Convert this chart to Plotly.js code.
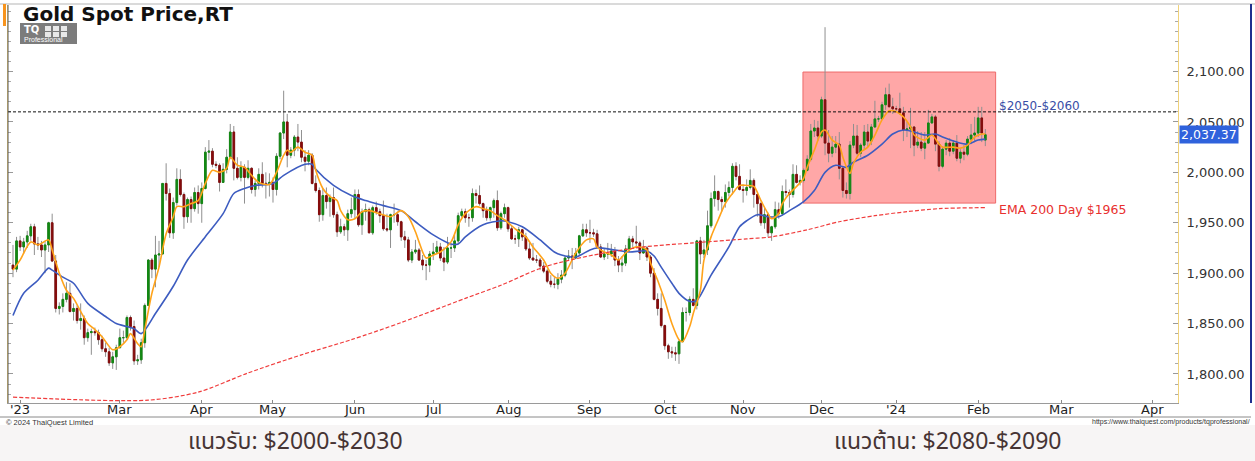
<!DOCTYPE html>
<html>
<head>
<meta charset="utf-8">
<script src="https://cdn.plot.ly/plotly-3.0.1.min.js"></script>
<style>
html,body{margin:0;padding:0;background:#ffffff;}
#chart{width:1255px;height:461px;}
</style>
</head>
<body>
<div id="chart"></div>
<script>
// ---------------- DATA (daily OHLC, Jan 18 2023 -> Feb 5 2024, trading-day index) ----------------
const open = [
1908,1904,1932,1926,1931,1937,1946,1929,1928,1923,
1928,1950,1912,1865,1867,1874,1880,1862,1865,1853,
1855,1836,1841,1842,1841,1834,1825,1822,1811,1817,
1826,1836,1836,1856,1847,1813,1814,1831,1868,1913,
1904,1918,1919,1989,1979,1940,1970,1993,1978,1956,
1973,1964,1980,1969,1984,2020,2021,2008,2007,1990,
2003,2015,2040,2004,1995,2005,1995,2004,1983,1989,
1998,1989,1989,1990,1983,2016,2039,2050,2017,2022,
2035,2030,2015,2011,2017,1989,1982,1958,1977,1971,
1975,1958,1941,1946,1943,1959,1963,1978,1948,1961,
1963,1940,1965,1961,1957,1944,1943,1958,1958,1951,
1936,1933,1913,1921,1923,1913,1908,1908,1919,1921,
1926,1915,1911,1925,1925,1932,1957,1961,1955,1955,
1979,1977,1969,1962,1955,1965,1972,1945,1959,1965,
1944,1934,1934,1943,1936,1924,1915,1913,1913,1907,
1902,1892,1889,1889,1894,1898,1915,1917,1915,1920,
1937,1943,1940,1940,1939,1926,1916,1919,1919,1922,
1913,1908,1910,1924,1934,1931,1930,1920,1925,1916,
1900,1874,1865,1848,1828,1822,1821,1820,1832,1861,
1861,1874,1868,1932,1919,1923,1947,1974,1981,1973,
1971,1980,1985,2006,1996,1983,1982,1985,1992,1978,
1969,1950,1958,1940,1946,1963,1959,1981,1980,1978,
1998,1990,1992,2002,2013,2041,2044,2036,2072,2029,
2019,2025,2028,2004,1982,1979,2027,2036,2019,2027,
2040,2031,2045,2053,2053,2067,2077,2065,2063,2063,
2059,2042,2043,2045,2027,2030,2024,2029,2049,2055,
2028,2006,2023,2029,2021,2029,2014,2020,2018,2033,
2037,2039,2054,2032
];
const high = [
1928,1936,1937,1935,1942,1949,1949,1936,1932,1932,
1951,1959,1918,1871,1880,1891,1890,1870,1868,1870,
1858,1845,1845,1846,1844,1838,1831,1826,1822,1829,
1845,1843,1858,1858,1853,1819,1835,1870,1914,1915,
1937,1932,1989,2009,1984,1975,2004,2003,1980,1975,
1976,1985,1987,1990,2025,2032,2024,2011,2009,2009,
2023,2048,2046,2015,2011,2008,2012,2005,1992,2004,
2010,2000,1999,1995,2019,2040,2081,2058,2025,2037,
2048,2042,2022,2022,2019,1997,1985,1984,1985,1978,
1985,1961,1954,1949,1963,1975,1983,1983,1964,1969,
1965,1967,1971,1964,1972,1959,1959,1969,1961,1952,
1942,1936,1924,1933,1925,1918,1913,1922,1930,1932,
1930,1926,1936,1929,1938,1960,1964,1964,1959,1984,
1983,1987,1970,1966,1966,1974,1982,1961,1969,1966,
1947,1938,1946,1944,1940,1930,1930,1918,1915,1911,
1904,1898,1896,1900,1903,1917,1923,1925,1925,1938,
1949,1949,1953,1944,1943,1929,1924,1930,1929,1926,
1917,1917,1928,1937,1937,1947,1932,1933,1927,1918,
1905,1880,1880,1849,1830,1827,1827,1834,1866,1866,
1877,1885,1933,1936,1933,1962,1980,1997,1982,1976,
1988,1991,2009,2010,2008,1988,1993,2003,1994,1979,
1971,1965,1960,1947,1971,1970,1987,1993,1983,2008,
2007,1997,2004,2017,2048,2052,2051,2075,2144,2042,
2036,2036,2040,2005,1990,2031,2048,2047,2029,2047,
2048,2048,2071,2056,2070,2084,2088,2074,2066,2079,
2065,2050,2064,2046,2041,2040,2040,2062,2058,2057,
2031,2026,2032,2034,2032,2037,2023,2027,2036,2048,
2055,2065,2065,2043
];
const low = [
1896,1901,1922,1919,1925,1932,1918,1923,1916,1900,
1921,1911,1861,1859,1861,1871,1861,1853,1850,1844,
1829,1832,1819,1838,1829,1822,1817,1808,1805,1804,
1826,1831,1834,1843,1809,1809,1810,1826,1868,1895,
1886,1906,1919,1972,1935,1934,1967,1976,1944,1950,
1950,1961,1959,1950,1983,2012,2005,2004,1981,1990,
1999,2013,1992,1993,1991,1969,1993,1979,1976,1983,
1985,1974,1976,1970,1977,2013,2033,2005,2014,2016,
2021,2010,2001,2007,1988,1980,1951,1952,1964,1956,
1955,1936,1939,1937,1932,1955,1954,1946,1938,1952,
1940,1938,1958,1950,1942,1941,1925,1950,1947,1932,
1925,1911,1910,1919,1912,1903,1893,1901,1913,1920,
1912,1902,1909,1915,1921,1930,1955,1950,1946,1951,
1969,1967,1955,1952,1952,1955,1942,1943,1955,1941,
1933,1929,1926,1932,1922,1913,1913,1910,1903,1900,
1890,1886,1885,1884,1890,1896,1913,1904,1914,1918,
1936,1936,1930,1936,1925,1915,1913,1914,1916,1907,
1901,1901,1907,1921,1926,1925,1913,1919,1912,1896,
1873,1858,1846,1824,1815,1816,1813,1810,1832,1852,
1858,1867,1864,1909,1915,1918,1945,1966,1962,1961,
1965,1976,1978,1992,1982,1970,1977,1983,1965,1956,
1947,1944,1936,1932,1944,1954,1957,1976,1965,1975,
1989,1987,1990,2001,2011,2035,2031,2034,2017,2010,
2015,2019,1993,1975,1974,1973,2024,2017,2015,2023,
2025,2027,2044,2050,2052,2062,2065,2058,2060,2057,
2031,2035,2024,2016,2024,2021,2013,2029,2048,2021,
2001,2004,2017,2016,2018,2011,2009,2012,2016,2028,
2030,2035,2030,2026
];
const close = [
1904,1932,1926,1931,1937,1946,1929,1928,1923,1928,
1950,1912,1865,1867,1874,1880,1862,1865,1853,1855,
1836,1841,1842,1841,1834,1825,1822,1811,1817,1826,
1836,1836,1856,1847,1813,1814,1831,1868,1913,1904,
1918,1919,1989,1979,1940,1970,1993,1978,1956,1973,
1964,1980,1969,1984,2020,2021,2008,2007,1990,2003,
2015,2040,2004,1995,2005,1995,2004,1983,1989,1998,
1989,1989,1990,1983,2016,2039,2050,2017,2022,2035,
2030,2015,2011,2017,1989,1982,1958,1977,1971,1975,
1958,1941,1946,1943,1959,1963,1978,1948,1961,1963,
1940,1965,1961,1957,1944,1943,1958,1958,1951,1936,
1933,1913,1921,1923,1913,1908,1908,1919,1921,1926,
1915,1911,1925,1925,1932,1957,1961,1955,1955,1979,
1977,1969,1962,1955,1965,1972,1945,1959,1965,1944,
1934,1934,1943,1936,1924,1915,1913,1913,1907,1902,
1892,1889,1889,1894,1898,1915,1917,1915,1920,1937,
1943,1940,1940,1939,1926,1916,1919,1919,1922,1913,
1908,1910,1924,1934,1931,1930,1920,1925,1916,1900,
1874,1865,1848,1828,1822,1821,1820,1832,1861,1861,
1874,1868,1932,1919,1923,1947,1974,1981,1973,1971,
1980,1985,2006,1996,1983,1982,1985,1992,1978,1969,
1950,1958,1940,1946,1963,1959,1981,1980,1978,1998,
1990,1992,2002,2013,2041,2044,2036,2072,2029,2019,
2025,2028,2004,1982,1979,2027,2036,2019,2027,2040,
2031,2045,2053,2053,2067,2077,2065,2063,2063,2059,
2042,2043,2045,2027,2030,2024,2029,2049,2055,2028,
2006,2023,2029,2021,2029,2014,2020,2018,2033,2037,
2039,2054,2039,2037.37
];

// short EMA (orange) at these trading-day indices
const emaFastX = [0,2,5,7,10,11,13,15,17,19,21,23,25,28,30,32,33,35,36,37,39,41,43,45,46,48,50,52,54,56,58,60,61,63,65,67,69,72,74,76,77,78,80,82,84,85,87,89,91,92,94,96,98,100,103,106,109,111,113,114,116,118,120,123,125,127,130,132,134,136,138,141,144,146,149,151,153,155,158,161,163,164,166,168,170,172,174,176,178,179,181,183,185,187,188,190,191,193,194,196,198,200,202,204,206,208,210,212,213,215,216,218,220,222,223,225,227,228,230,232,233,235,236,238,240,242,244,246,248,250,252,253,256,258,260,261,264,266,268,270,272,273];
const emaFastY = [1903,1913,1931,1928,1933,1923,1900,1883,1875,1862,1850,1844,1837,1824,1827,1834,1840,1830,1827,1844,1880,1906,1939,1956,1966,1966,1969,1972,1989,2002,2000,2004,2015,2007,2005,1997,1990,1988,2000,2017,2022,2020,2025,2020,2017,2002,1984,1976,1972,1962,1953,1954,1961,1962,1959,1956,1962,1956,1941,1931,1915,1918,1921,1931,1948,1959,1966,1964,1962,1957,1953,1944,1936,1926,1913,1900,1895,1900,1920,1933,1934,1926,1921,1918,1913,1920,1925,1926,1923,1910,1893,1873,1850,1834,1832,1847,1860,1883,1913,1936,1953,1969,1979,1987,1987,1986,1972,1959,1954,1959,1969,1979,1986,1994,2005,2022,2040,2042,2032,2027,2015,1999,2009,2020,2025,2037,2052,2061,2060,2055,2045,2037,2032,2037,2028,2025,2025,2024,2027,2035,2038,2038];

// medium EMA (blue)
const emaMidX = [0,3,7,10,11,14,17,21,26,29,32,34,36,40,45,49,54,59,62,65,68,73,76,82,84,85,90,95,99,104,109,113,118,123,125,127,132,137,139,143,148,152,154,158,162,164,169,173,178,180,182,185,187,190,192,196,201,204,206,209,212,215,218,222,225,228,231,234,236,240,244,247,250,253,256,259,261,265,268,271,273];
const emaMidY = [1858,1880,1893,1905,1903,1896,1890,1870,1857,1850,1847,1845,1840,1860,1887,1913,1936,1959,1979,1984,1987,1989,1997,2008,2008,2003,1987,1977,1972,1967,1962,1951,1938,1929,1929,1936,1948,1952,1951,1946,1933,1921,1918,1916,1923,1925,1923,1921,1922,1917,1906,1890,1880,1872,1873,1898,1926,1946,1952,1958,1956,1956,1962,1971,1982,2000,2007,2005,2010,2017,2028,2038,2042,2040,2037,2038,2035,2030,2028,2032,2033];

// EMA 200 day (red dashed)
const ema200X = [0,38,52,66,81,95,109,127,137,149,163,177,191,206,213,223,232,242,251,260,273];
const ema200Y = [1777,1774,1782,1801,1819,1834,1851,1875,1888,1906,1918,1926,1930,1934,1936,1943,1951,1957,1961,1964,1965];

const monthLabels = ["'23","Mar","Apr","May","Jun","Jul","Aug","Sep","Oct","Nov","Dec","'24","Feb","Mar","Apr"];
const priceTicks = [1800,1850,1900,1950,2000,2050,2100];
const zoneLow = 1969.5, zoneHigh = 2099.5;   // highlighted box
const resistanceLine = 2060;
const lastPrice = 2037.37;
const titleText = "Gold Spot Price,RT";
const supportText = "แนวรับ: $2000-$2030";
const resistText = "แนวต้าน: $2080-$2090";
const resistLabel = "$2050-$2060";
const emaLabel = "EMA 200 Day $1965";

// ---------------- LAYOUT / STYLE ----------------
const W = 1255, H = 461;
const ML = 8, MR = 77, MT = 5, MB = 58;
const PW = W - ML - MR, PH = H - MT - MB;
const px = X => (X - ML) / PW;      // pixel -> paper
const py = Y => (H - MB - Y) / PH;
const tickPos = [2, 30, 53, 73, 96, 118, 139, 162, 183, 205, 227, 248, 271, 294.5, 320];
const zoneX0 = 221.8, zoneX1 = 275.9;

const idx = close.map((_, i) => i);
const bodyHi = open.map((o, i) => Math.max(o, close[i]));
const bodyLo = open.map((o, i) => Math.min(o, close[i]));

const wickTrace = {
  type: 'candlestick', x: idx, open: open, high: high, low: low, close: close,
  increasing: {line: {color: '#8f8f8f', width: 1}, fillcolor: '#8f8f8f'},
  decreasing: {line: {color: '#8f8f8f', width: 1}, fillcolor: '#8f8f8f'},
  whiskerwidth: 0, hoverinfo: 'skip', showlegend: false
};
const bodyTrace = {
  type: 'candlestick', x: idx, open: open, high: bodyHi, low: bodyLo, close: close,
  increasing: {line: {color: '#138813', width: 1}, fillcolor: '#138813'},
  decreasing: {line: {color: '#850c0c', width: 1}, fillcolor: '#850c0c'},
  whiskerwidth: 0, hoverinfo: 'skip', showlegend: false
};
const midTrace = {type: 'scatter', mode: 'lines', x: emaMidX, y: emaMidY,
  line: {color: '#3d5cc0', width: 1.6, shape: 'spline', smoothing: 0.8}, hoverinfo: 'skip'};
const fastTrace = {type: 'scatter', mode: 'lines', x: emaFastX, y: emaFastY,
  line: {color: '#ffa31a', width: 1.6, shape: 'spline', smoothing: 0.8}, hoverinfo: 'skip'};
const slowTrace = {type: 'scatter', mode: 'lines', x: ema200X, y: ema200Y,
  line: {color: '#f03c3c', width: 1.2, dash: '4px,2px', shape: 'spline', smoothing: 0.8}, hoverinfo: 'skip'};

const sans = 'DejaVu Sans, Liberation Sans, sans-serif';
const thai = 'Noto Sans Thai, Loma, Garuda, Noto Sans, DejaVu Sans, sans-serif';
const annotations = [
  {xref: 'paper', yref: 'paper', x: px(21), y: py(14), xanchor: 'left', yanchor: 'middle', showarrow: false,
   text: '<b>' + titleText + '</b>', font: {family: sans, size: 20, color: '#111'}},
  {xref: 'paper', yref: 'paper', x: px(22), y: py(29.5), xanchor: 'left', yanchor: 'middle', showarrow: false,
   text: '<b>TQ</b>', font: {family: sans, size: 10, color: '#ffffff'}},
  {xref: 'paper', yref: 'paper', x: px(22), y: py(39), xanchor: 'left', yanchor: 'middle', showarrow: false,
   text: 'Professional', font: {family: 'Liberation Sans, sans-serif', size: 7, color: '#ffffff'}},
  {xref: 'paper', yref: 'paper', x: px(4), y: py(422), xanchor: 'left', yanchor: 'middle', showarrow: false,
   text: '© 2024 ThaiQuest Limited', font: {family: 'Liberation Sans, Arial, sans-serif', size: 7.5, color: '#333'}},
  {xref: 'paper', yref: 'paper', x: px(1252), y: py(422), xanchor: 'right', yanchor: 'middle', showarrow: false,
   text: 'https://www.thaiquest.com/products/tqprofessional/', font: {family: 'Liberation Sans, Arial, sans-serif', size: 7, color: '#333'}},
  {xref: 'x', yref: 'paper', x: zoneX1 + 0.4, y: py(106), xanchor: 'left', yanchor: 'middle', showarrow: false,
   text: resistLabel, font: {family: sans, size: 12, color: '#3a4ea6'}},
  {xref: 'x', yref: 'paper', x: zoneX1 + 0.4, y: py(209), xanchor: 'left', yanchor: 'middle', showarrow: false,
   text: emaLabel, font: {family: sans, size: 12.5, color: '#e8302e'}},
  {xref: 'paper', yref: 'y', x: 1, y: lastPrice, xanchor: 'left', yanchor: 'middle', xshift: 1, showarrow: false,
   text: lastPrice.toLocaleString('en-US', {minimumFractionDigits: 2}), bgcolor: '#2f62dc', borderpad: 1,
   font: {family: sans, size: 12.5, color: '#ffffff'}},
  {xref: 'paper', yref: 'paper', x: px(186), y: py(442), xanchor: 'left', yanchor: 'middle', showarrow: false,
   text: supportText, font: {family: thai, size: 23, color: '#463434'}},
  {xref: 'paper', yref: 'paper', x: px(832), y: py(442), xanchor: 'left', yanchor: 'middle', showarrow: false,
   text: resistText, font: {family: thai, size: 23, color: '#463434'}}
];
// month labels of the time axis
monthLabels.forEach((m, k) => annotations.push({
  xref: 'x', yref: 'paper', x: tickPos[k], y: py(410), xanchor: 'center', yanchor: 'middle', showarrow: false,
  text: m, font: {family: sans, size: 13, color: '#222'}
}));

// logo grid icon (small white squares)
const logoShapes = [];
[[45,26],[53,26],[61,26],[45,32],[53,32],[61,32]].forEach(([X, Y]) => logoShapes.push(
  {type: 'rect', xref: 'paper', yref: 'paper', x0: px(X), x1: px(X + 6), y0: py(Y + 5), y1: py(Y),
   fillcolor: '#e8e8e8', line: {width: 0}}));

const layout = {
  width: W, height: H,
  margin: {l: ML, r: MR, t: MT, b: MB, pad: 0},
  paper_bgcolor: '#ffffff', plot_bgcolor: '#ffffff',
  showlegend: false, boxmode: 'overlay', boxgap: 0.35, hovermode: false,
  xaxis: {
    range: [-1.4, 327.1], showgrid: false, zeroline: false,
    rangeslider: {visible: false},
    tickmode: 'array', tickvals: tickPos, showticklabels: false,
    ticks: 'inside', ticklen: 3, tickcolor: '#888',
    showline: true, linecolor: '#9a9a9a', linewidth: 1
  },
  yaxis: {
    side: 'right', range: [1771.2, 2166], showgrid: false, zeroline: false,
    tickmode: 'array', tickvals: priceTicks, tickformat: ',.2f',
    ticks: 'inside', ticklen: 5, tickcolor: '#999',
    minor: {tickmode: 'linear', tick0: 1800, dtick: 10, ticks: 'inside', ticklen: 3, tickcolor: '#aaa', showgrid: false},
    showline: true, linecolor: '#f0d27a', linewidth: 1, mirror: 'ticks',
    tickfont: {family: sans, size: 13, color: '#333'},
    ticklabelstandoff: 5
  },
  shapes: [
    {type: 'rect', xref: 'paper', yref: 'paper', x0: px(0), x1: px(W), y0: py(H), y1: py(425),
     fillcolor: '#f7f5f5', line: {width: 0}, layer: 'below'},
    {type: 'rect', xref: 'x', yref: 'y', x0: zoneX0, x1: zoneX1, y0: zoneLow, y1: zoneHigh,
     fillcolor: 'rgba(255,80,80,0.5)', line: {color: '#ee6a6a', width: 1}, layer: 'below'},
    {type: 'line', xref: 'paper', yref: 'y', x0: 0, x1: 1, y0: resistanceLine, y1: resistanceLine,
     line: {color: '#111', width: 1, dash: '3px,2px'}},
    {type: 'line', xref: 'paper', yref: 'paper', x0: px(0), x1: px(W), y0: py(4), y1: py(4), line: {color: '#b5b5b5', width: 1}},
    {type: 'line', xref: 'paper', yref: 'paper', x0: 0, x1: 0, y0: 0, y1: 1, line: {color: '#555', width: 1}},
    {type: 'line', xref: 'paper', yref: 'paper', x0: px(1251), x1: px(1251), y0: py(403), y1: py(4), line: {color: '#1f2f8f', width: 2}},
    {type: 'line', xref: 'paper', yref: 'paper', x0: px(0), x1: px(1251), y0: py(417), y1: py(417), line: {color: '#8a8a8a', width: 1}},
    {type: 'rect', xref: 'paper', yref: 'paper', x0: px(3), x1: px(6), y0: py(26), y1: py(4), fillcolor: '#f7941d', line: {width: 0}},
    {type: 'rect', xref: 'paper', yref: 'paper', x0: px(20), x1: px(77), y0: py(44), y1: py(23), fillcolor: '#7c7c7c', line: {width: 0}}
  ].concat(logoShapes),
  annotations: annotations
};

Plotly.newPlot('chart', [wickTrace, bodyTrace, midTrace, fastTrace, slowTrace], layout,
  {displayModeBar: false, staticPlot: true});
</script>
</body>
</html>
